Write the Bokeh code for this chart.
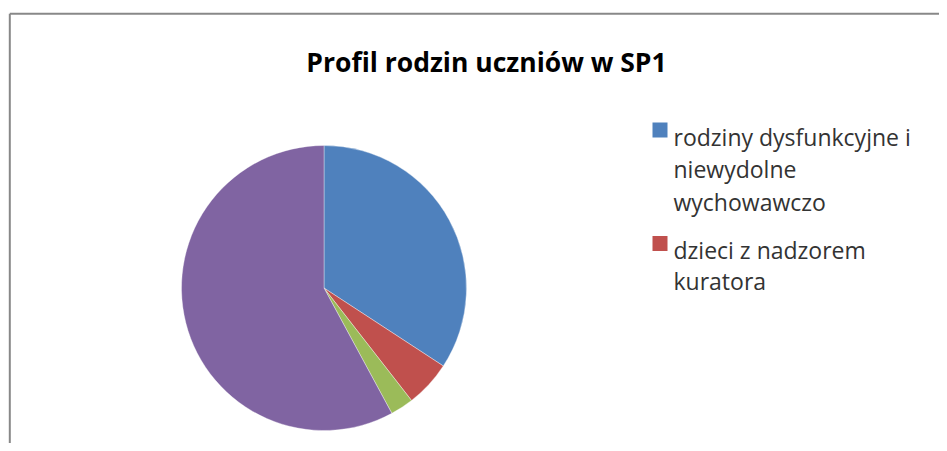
import math
from bokeh.plotting import figure
from bokeh.models import Range1d, ColumnDataSource
from bokeh.core.properties import value
from bokeh.embed import file_html
from bokeh.resources import INLINE

# ---- data ----
title = "Profil rodzin uczniów w SP1"
values = [13, 2, 1, 22]
colors = ["#4F81BD", "#C0504D", "#9BBB59", "#8064A2"]
legend_labels = [
    ["rodziny dysfunkcyjne i", "niewydolne", "wychowawczo"],
    ["dzieci z nadzorem", "kuratora"],
]

W, H = 939, 443
FONT = "Open Sans"

p = figure(width=W, height=H, output_backend="svg", toolbar_location=None,
           x_range=Range1d(0, W), y_range=Range1d(0, H), min_border=0,
           outline_line_color=None)
p.axis.visible = False
p.grid.visible = False
p.background_fill_color = "white"
p.border_fill_color = "white"

# page-pixel helpers (figure drawn from the window's top-left corner)
def Y(page_y):
    return H - page_y

def X(page_x):
    return page_x

# chart border (left and top visible)
p.line([X(9.3), X(9.3)], [Y(13.3), Y(470)], line_color="#888888", line_width=2)
p.line([X(9.3), X(980)], [Y(13.3), Y(13.3)], line_color="#888888", line_width=2)

# pie
total = sum(values)
starts, ends = [], []
cum = 0
for v in values:
    a0 = math.pi / 2 - 2 * math.pi * cum / total
    cum += v
    a1 = math.pi / 2 - 2 * math.pi * cum / total
    starts.append(a0)
    ends.append(a1)
src = ColumnDataSource(dict(start=starts, end=ends, color=colors))
p.wedge(x=X(323.5), y=Y(287.5), radius=142.5, start_angle="start", end_angle="end",
        direction="clock", fill_color="color", line_color="white", line_width=0.6,
        line_alpha=0.6, source=src)

# title
p.text(x=[X(486)], y=[Y(61)], text=[title], text_font=value(FONT),
       text_font_size="26.5px", text_font_style="bold", text_align="center",
       text_baseline="alphabetic", text_color="#000000")

# legend
sq_y = [129.5, 243]
line_base = [[136, 168.5, 201], [249, 280]]
for i, lines in enumerate(legend_labels):
    p.rect(x=[X(659.5)], y=[Y(sq_y[i])], width=15, height=15,
           fill_color=colors[i], line_color=None)
    p.text(x=[X(673)] * len(lines), y=[Y(b) for b in line_base[i]], text=lines,
           text_font=value(FONT), text_font_size="23px", text_align="left",
           text_baseline="alphabetic", text_color="#333333")

open("out.html", "w").write(file_html(p, INLINE))
